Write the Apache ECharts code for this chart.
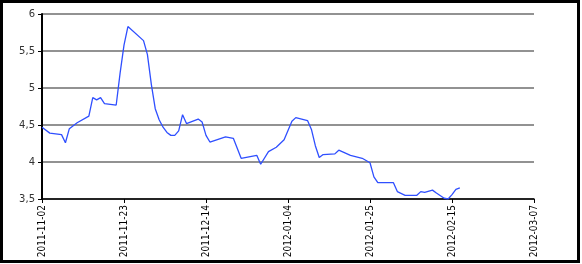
<!DOCTYPE html>
<html>
<head>
<meta charset="utf-8">
<script src="https://cdn.jsdelivr.net/npm/echarts@6/dist/echarts.min.js"></script>
<style>
html,body{margin:0;padding:0;background:#fff;}
#c{width:582px;height:264px;}
</style>
</head>
<body>
<div id="c"></div>
<script>
var dates = ["2011-11-02","2011-11-04","2011-11-07","2011-11-08","2011-11-09","2011-11-11","2011-11-14","2011-11-15","2011-11-16","2011-11-17","2011-11-18","2011-11-21","2011-11-22","2011-11-23","2011-11-24","2011-11-28","2011-11-29","2011-11-30","2011-12-01","2011-12-02","2011-12-03","2011-12-04","2011-12-05","2011-12-06","2011-12-07","2011-12-08","2011-12-09","2011-12-12","2011-12-13","2011-12-14","2011-12-15","2011-12-19","2011-12-21","2011-12-23","2011-12-27","2011-12-28","2011-12-30","2012-01-01","2012-01-03","2012-01-05","2012-01-06","2012-01-09","2012-01-10","2012-01-11","2012-01-12","2012-01-13","2012-01-16","2012-01-17","2012-01-20","2012-01-23","2012-01-25","2012-01-26","2012-01-27","2012-01-31","2012-02-01","2012-02-03","2012-02-06","2012-02-07","2012-02-08","2012-02-10","2012-02-11","2012-02-13","2012-02-14","2012-02-15","2012-02-16","2012-02-17"];
var values = [4.47,4.39,4.37,4.26,4.45,4.53,4.62,4.87,4.84,4.87,4.79,4.77,5.20,5.58,5.83,5.64,5.45,5.05,4.72,4.57,4.47,4.40,4.36,4.36,4.42,4.64,4.52,4.58,4.54,4.36,4.27,4.34,4.32,4.05,4.09,3.97,4.14,4.20,4.30,4.55,4.60,4.56,4.44,4.22,4.06,4.10,4.11,4.16,4.09,4.05,3.99,3.80,3.72,3.72,3.60,3.55,3.55,3.60,3.59,3.62,3.58,3.51,3.50,3.56,3.63,3.65];
var xStart = "2011-11-02", xEnd = "2012-03-07", tickDays = 21;
var yMin = 3.5, yMax = 6, yStep = 0.5;

function ts(s){var p=s.split('-');return Date.UTC(+p[0],+p[1]-1,+p[2]);}
function fmt(v){var d=new Date(v);var m=d.getUTCMonth()+1,dd=d.getUTCDate();return d.getUTCFullYear()+'-'+(m<10?'0':'')+m+'-'+(dd<10?'0':'')+dd;}
var data = dates.map(function(d,i){return [ts(d), values[i]];});

var chart = echarts.init(document.getElementById('c'), null, {renderer:'canvas'});
chart.setOption({
  animation:false,
  backgroundColor:'#fff',
  grid:{left:42,right:48,top:14,bottom:65,containLabel:false},
  graphic:[{type:'rect',shape:{x:1.5,y:1.5,width:577,height:260},style:{fill:'none',stroke:'#000',lineWidth:3},z:100}],
  xAxis:{
    type:'value', min:ts(xStart), max:ts(xEnd), interval:tickDays*86400000,
    axisLine:{show:true,lineStyle:{color:'#000',width:1.5}},
    axisTick:{show:true,length:4,lineStyle:{color:'#000'}},
    splitLine:{show:false},
    axisLabel:{rotate:90,margin:6,color:'#000',fontSize:10,fontFamily:'"Liberation Sans Narrow","Arial Narrow","DejaVu Sans Condensed",sans-serif',formatter:function(v){return fmt(v);},showMaxLabel:true,showMinLabel:true}
  },
  yAxis:{
    type:'value', min:yMin, max:yMax, interval:yStep,
    axisLine:{show:true,lineStyle:{color:'#000',width:2}},
    axisTick:{show:true,length:4,lineStyle:{color:'#000'}},
    splitLine:{show:true,lineStyle:{color:'#6e6e6e',width:1.5}},
    axisLabel:{margin:7,color:'#333',fontSize:10,fontFamily:'"DejaVu Sans",sans-serif',formatter:function(v){return String(v).replace('.',',');}}
  },
  series:[{
    type:'line', data:data, showSymbol:false, symbol:'none',
    lineStyle:{color:'#2f4fff',width:1.3}, clip:true
  }]
});
</script>
</body>
</html>
